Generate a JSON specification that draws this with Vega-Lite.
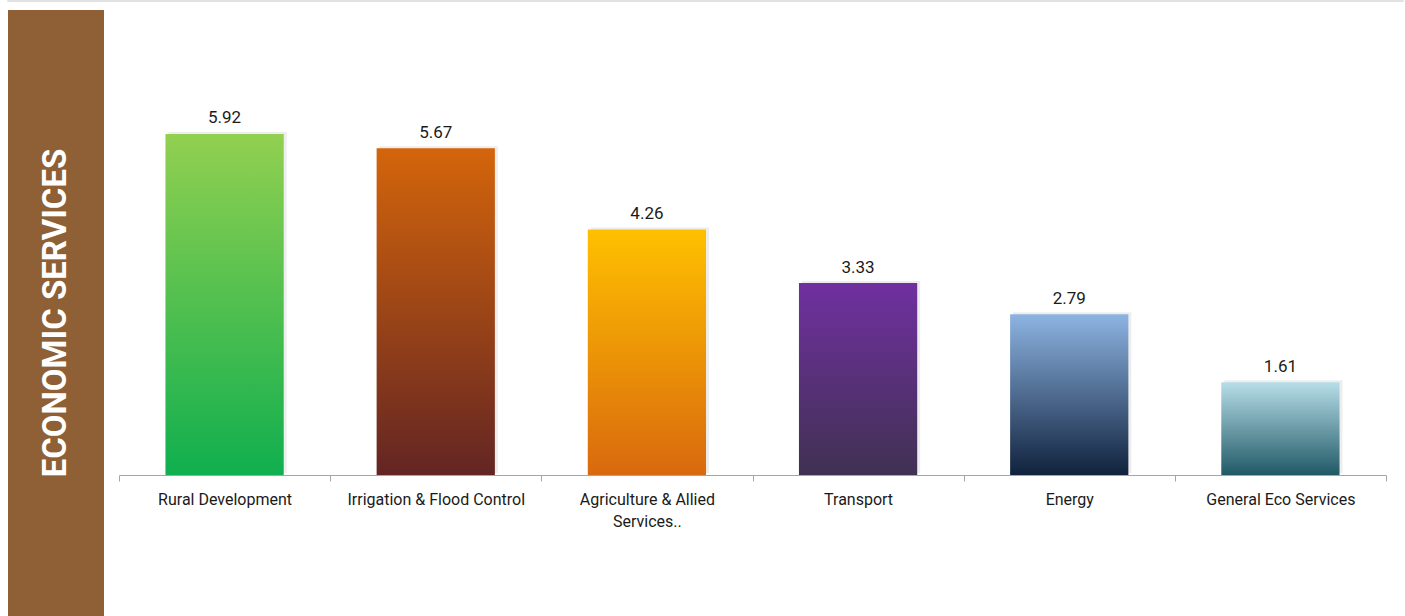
{
  "$schema": "https://vega.github.io/schema/vega-lite/v6.json",
  "padding": {"left": 7, "top": 0, "right": 3, "bottom": 0},
  "background": "white",
  "bounds": "flush",
  "spacing": 8,
  "config": {"view": {"stroke": null}, "font": "Roboto"},
  "vconcat": [
    {
      "width": 1395,
      "height": 0.01,
      "view": {"stroke": "#d9d9d9", "strokeWidth": 1.5},
      "data": {"values": [{"t": ""}]},
      "mark": {"type": "rect", "opacity": 0},
      "encoding": {}
    },
    {
      "bounds": "flush",
      "spacing": 15,
      "hconcat": [
        {
          "width": 96,
          "height": 606,
          "view": {"fill": "#8F5F36", "stroke": null},
          "data": {"values": [{"label": "ECONOMIC SERVICES"}]},
          "mark": {"type": "text", "angle": 270, "color": "white", "fontSize": 33, "fontWeight": "bold", "font": "Roboto", "align": "center", "baseline": "middle"},
          "encoding": {"text": {"field": "label"}}
        },
        {
          "width": 1267,
          "height": 465,
          "data": {"values": [
            {"cat": "Rural Development", "value": 5.92},
            {"cat": "Irrigation & Flood Control", "value": 5.67},
            {"cat": "Agriculture & Allied Services..", "value": 4.26},
            {"cat": "Transport", "value": 3.33},
            {"cat": "Energy", "value": 2.79},
            {"cat": "General Eco Services", "value": 1.61}
          ]},
          "encoding": {
            "x": {
              "field": "cat", "type": "nominal",
              "scale": {"domain": ["Rural Development", "Irrigation & Flood Control", "Agriculture & Allied Services..", "Transport", "Energy", "General Eco Services"], "paddingInner": 0, "paddingOuter": 0},
              "axis": {
                "title": null, "domainColor": "#a6a6a6", "tickColor": "#a6a6a6", "tickSize": 6, "tickBand": "extent",
                "labelFontSize": 16, "labelColor": "#1a1a1a", "labelPadding": 10, "labelAngle": 0, "labelLineHeight": 22, "labelLimit": 0,
                "labelExpr": "datum.label === 'Agriculture & Allied Services..' ? ['Agriculture & Allied', 'Services..'] : datum.label"
              }
            },
            "y": {"field": "value", "type": "quantitative", "scale": {"domain": [0, 8.07], "nice": false}, "axis": null}
          },
          "layer": [
            {"mark": {"type": "bar", "width": {"band": 0.56}, "color": "#000000", "opacity": 0.07, "xOffset": 3, "yOffset": -2}},
            {"transform": [{"filter": "datum.cat === 'Rural Development'"}],
             "mark": {"type": "bar", "width": {"band": 0.56}, "color": {"gradient": "linear", "x1": 0, "y1": 0, "x2": 0, "y2": 1, "stops": [{"offset": 0, "color": "#92D050"}, {"offset": 1, "color": "#10AF4F"}]}}},
            {"transform": [{"filter": "datum.cat === 'Irrigation & Flood Control'"}],
             "mark": {"type": "bar", "width": {"band": 0.56}, "color": {"gradient": "linear", "x1": 0, "y1": 0, "x2": 0, "y2": 1, "stops": [{"offset": 0, "color": "#D4650B"}, {"offset": 1, "color": "#632523"}]}}},
            {"transform": [{"filter": "datum.cat === 'Agriculture & Allied Services..'"}],
             "mark": {"type": "bar", "width": {"band": 0.56}, "color": {"gradient": "linear", "x1": 0, "y1": 0, "x2": 0, "y2": 1, "stops": [{"offset": 0, "color": "#FFC000"}, {"offset": 1, "color": "#D9690E"}]}}},
            {"transform": [{"filter": "datum.cat === 'Transport'"}],
             "mark": {"type": "bar", "width": {"band": 0.56}, "color": {"gradient": "linear", "x1": 0, "y1": 0, "x2": 0, "y2": 1, "stops": [{"offset": 0, "color": "#7030A0"}, {"offset": 1, "color": "#403152"}]}}},
            {"transform": [{"filter": "datum.cat === 'Energy'"}],
             "mark": {"type": "bar", "width": {"band": 0.56}, "color": {"gradient": "linear", "x1": 0, "y1": 0, "x2": 0, "y2": 1, "stops": [{"offset": 0, "color": "#8DB4E2"}, {"offset": 1, "color": "#10223D"}]}}},
            {"transform": [{"filter": "datum.cat === 'General Eco Services'"}],
             "mark": {"type": "bar", "width": {"band": 0.56}, "color": {"gradient": "linear", "x1": 0, "y1": 0, "x2": 0, "y2": 1, "stops": [{"offset": 0, "color": "#B7DEE8"}, {"offset": 1, "color": "#215967"}]}}},
            {"mark": {"type": "text", "fontSize": 17, "color": "#1a1a1a", "baseline": "alphabetic", "dy": -10.5},
             "encoding": {"text": {"field": "value", "type": "quantitative", "format": ".2f"}}}
          ]
        }
      ]
    }
  ]
}
